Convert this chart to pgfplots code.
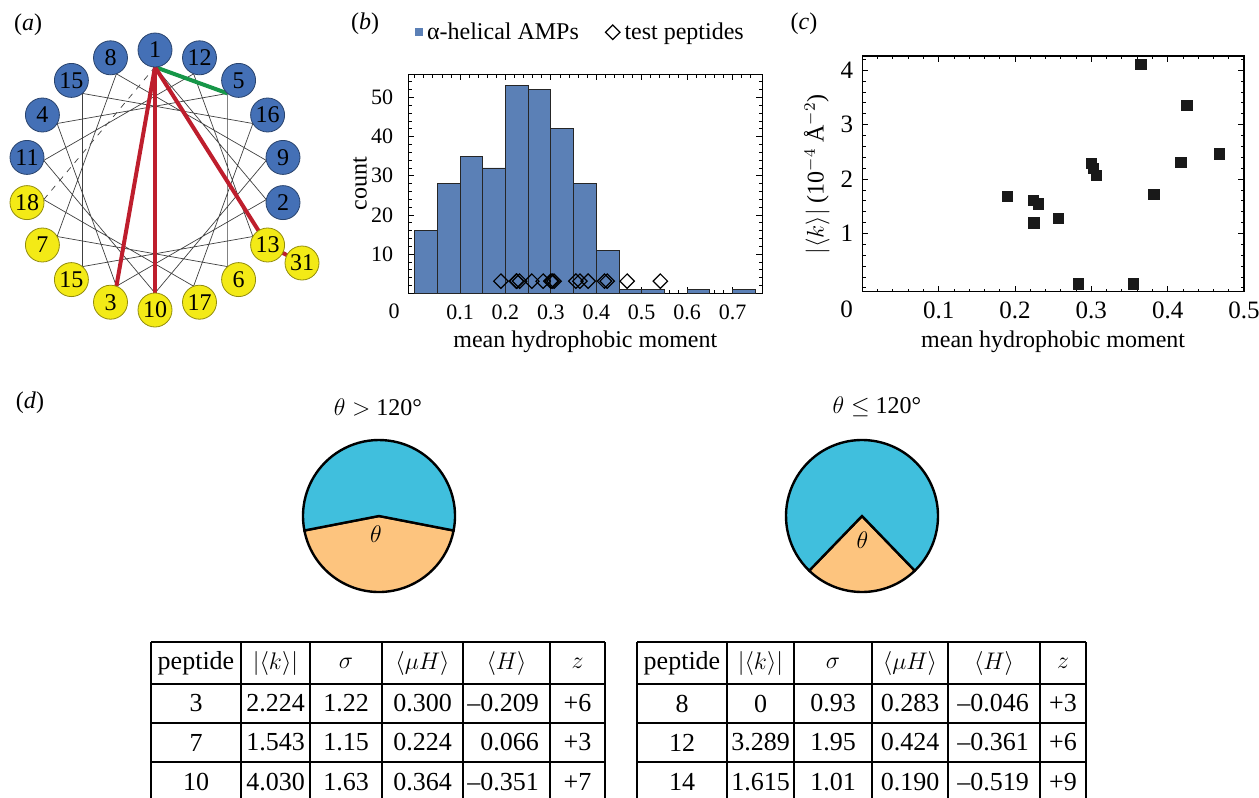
\documentclass[border=0pt]{standalone}
\usepackage{fontspec}
\setmainfont{Liberation Serif}
\usepackage{pgfplots}
\pgfplotsset{compat=1.18}
\definecolor{wblue}{RGB}{68,112,182}
\definecolor{wyellow}{RGB}{243,234,22}
\definecolor{wred}{RGB}{190,30,45}
\definecolor{wgreen}{RGB}{22,150,72}
\definecolor{hblue}{RGB}{91,128,182}
\definecolor{pcyan}{RGB}{64,191,221}
\definecolor{porange}{RGB}{253,196,126}
\newcommand{\fs}[1]{\fontsize{#1}{#1}\selectfont}
\pgfplotsset{
  frame/.style={
    scale only axis, tick align=inside,
    major tick length=3pt, minor tick length=1.6pt,
    every tick/.style={black, line width=0.4pt},
    axis line style={line width=0.6pt},
    /pgf/number format/assume math mode=true,
  }
}
\begin{document}
\begin{tikzpicture}[font=\fs{12}]
%% (a) helical wheel
\begin{axis}[at={(0pt,0pt)}, anchor=north west, x=0.5pt, y=0.5pt, y dir=reverse,
  xmin=0, xmax=330, ymin=0, ymax=330, axis lines=none, ticks=none, clip=false]
\addplot[black!75, line width=0.35pt] coordinates {(155,67) (266.3,199.6) (116.4,286.2) (57.1,123.5) (227.6,93.4) (227.6,266.6) (57.1,236.5) (116.4,73.8) (266.3,160.4) (155,293) (43.7,160.4) (193.6,73.8) (252.9,236.5) (82.4,266.6) (82.4,93.4) (252.9,123.5) (193.6,286.2) (43.7,199.6)};
\addplot[black!75, line width=0.35pt, dashed] coordinates {(43.7,199.6) (155,67)};
\addplot[wgreen, line width=2pt] coordinates {(155,67) (227.6,93.4)};
\addplot[wred, line width=2pt] coordinates {(155,67) (116.4,286.2)};
\addplot[wred, line width=2pt] coordinates {(155,67) (155,293)};
\addplot[wred, line width=2pt] coordinates {(155,67) (267.6,245) (302,263)};
\addplot[only marks, mark=*, mark size=8.5pt, mark options={fill=wblue, draw=wblue!60!black, line width=0.4pt},
  nodes near coords, point meta=explicit symbolic, nodes near coords align={anchor=center},
  every node near coord/.append style={font=\fs{12}, text=black}]
  coordinates {(155,50) [1] (283.0,202.6) [2] (42.4,115) [4] (238.6,80.4) [5] (110.5,57.8) [8] (283.0,157.4) [9] (27.0,157.4) [11] (199.5,57.8) [12] (71.4,80.4) [15] (267.6,115) [16]};
\addplot[only marks, mark=*, mark size=8.5pt, mark options={fill=wyellow, draw=wyellow!60!black, line width=0.4pt},
  nodes near coords, point meta=explicit symbolic, nodes near coords align={anchor=center},
  every node near coord/.append style={font=\fs{12}, text=black}]
  coordinates {(110.5,302.2) [3] (238.6,279.6) [6] (42.4,245) [7] (155,310) [10] (267.6,245) [13] (71.4,279.6) [15] (199.5,302.2) [17] (27.0,202.6) [18] (302,263) [31]};
\end{axis}
%% (b) histogram
\begin{axis}[frame, at={(204.15pt,-37.15pt)}, anchor=north west, width=177pt, height=109.5pt,
  xmin=-0.014, xmax=0.7656, ymin=0, ymax=55.9,
  xtick={0.1,0.2,0.3,0.4,0.5,0.6,0.7},
  minor xtick={0,0.02,0.04,0.06,0.08,0.12,0.14,0.16,0.18,0.22,0.24,0.26,0.28,0.32,0.34,0.36,0.38,0.42,0.44,0.46,0.48,0.52,0.54,0.56,0.58,0.62,0.64,0.66,0.68,0.72,0.74},
  ytick={10,20,30,40,50},
  minor ytick={2,4,6,8,12,14,16,18,22,24,26,28,32,34,36,38,42,44,46,48,52,54},
  tick label style={font=\fs{11}},
  xticklabel style={yshift=-2.5pt}, yticklabel style={xshift=-4pt},
  xlabel={mean hydrophobic moment}, ylabel={count},
  xlabel style={at={(axis description cs:0.5,-0.222)}, anchor=center, font=\fs{12}},
  ylabel style={at={(axis description cs:-0.1365,0.5)}, anchor=center, font=\fs{12}},
  legend columns=2,
  legend style={at={(0.019,1.192)}, anchor=west, draw=none, fill=none, inner sep=0pt,
    font=\fs{12}, /tikz/every even column/.append style={column sep=11pt}},
  legend cell align=left]
\addplot[ybar, bar width=0.05, bar shift=0pt, fill=hblue, draw=black!85, line width=0.4pt, forget plot]
  coordinates {(0.025,16) (0.075,28) (0.125,35) (0.175,32) (0.225,53) (0.275,52) (0.325,42) (0.375,28) (0.425,11) (0.475,1) (0.525,1) (0.625,1) (0.725,1)};
\addplot[only marks, mark=square, mark size=2.55pt, mark options={rotate=45, line width=0.6pt, black}, forget plot]
  coordinates {(0.190,3.1) (0.224,3.1) (0.225,3.1) (0.231,3.1) (0.258,3.1) (0.283,3.1) (0.300,3.1) (0.303,3.1) (0.307,3.1) (0.355,3.1) (0.364,3.1) (0.382,3.1) (0.418,3.1) (0.424,3.1) (0.468,3.1) (0.541,3.1)};
\addlegendimage{legend image code/.code={\fill[hblue] (0pt,-1.7pt) rectangle (3.4pt,1.7pt);}}
\addlegendentry{α-helical AMPs}
\addlegendimage{legend image code/.code={\draw[black, line width=0.6pt] (0pt,0pt) -- (3.6pt,3.6pt) -- (7.2pt,0pt) -- (3.6pt,-3.6pt) -- cycle;}}
\addlegendentry{test peptides}
\end{axis}
%% (c) scatter
\begin{axis}[frame, at={(431.15pt,-28pt)}, anchor=north west, width=190.85pt, height=117.85pt,
  xmin=0, xmax=0.5, ymin=-0.07, ymax=4.26,
  xtick={0.1,0.2,0.3,0.4,0.5},
  minor xtick={0,0.02,0.04,0.06,0.08,0.12,0.14,0.16,0.18,0.22,0.24,0.26,0.28,0.32,0.34,0.36,0.38,0.42,0.44,0.46,0.48},
  ytick={1,2,3,4},
  minor ytick={0,0.2,0.4,0.6,0.8,1.2,1.4,1.6,1.8,2.2,2.4,2.6,2.8,3.2,3.4,3.6,3.8,4.2},
  tick label style={font=\fs{12.5}},
  xticklabel style={yshift=-1.5pt}, yticklabel style={xshift=-1pt},
  xlabel={mean hydrophobic moment},
  ylabel={$|\langle k\rangle|$ (10$^{-4}$ Å$^{-2}$)},
  xlabel style={at={(axis description cs:0.5,-0.212)}, anchor=center, font=\fs{12}},
  ylabel style={at={(axis description cs:-0.1195,0.4985)}, anchor=center, font=\fs{12}}]
\addplot[only marks, mark=square*, mark size=2.6pt, mark options={fill=black!90, draw=black!90}]
  coordinates {(0.190,1.685) (0.224,1.61) (0.231,1.54) (0.225,1.195) (0.257,1.28) (0.283,0.07) (0.300,2.29) (0.3026,2.19) (0.307,2.07) (0.355,0.07) (0.365,4.11) (0.382,1.72) (0.4175,2.30) (0.425,3.35) (0.468,2.46)};
\end{axis}
\begin{scope}[x=0.5pt, y=-0.5pt]
%% origin labels and panel labels
\node[font=\fs{11}] at (394,311.7) {0};
\node[font=\fs{12.5}] at (846.7,309) {0};
\node at (28,25) {(\textit{a})};
\node at (365,24) {(\textit{b})};
\node at (804,24) {(\textit{c})};
\node at (30,403) {(\textit{d})};
%% (d) pies
\node at (378,407) {$\theta >$ 120°};
\node at (877,407) {$\theta \leq$ 120°};
\filldraw[fill=porange, line width=1.2pt, line join=miter] (379,516) -- ++(191:38pt) arc[start angle=191, end angle=349, radius=38pt] -- cycle;
\filldraw[fill=pcyan, line width=1.2pt, line join=miter] (379,516) -- ++(349:38pt) arc[start angle=349, end angle=551, radius=38pt] -- cycle;
\node at (376,534) {$\theta$};
\filldraw[fill=porange, line width=1.2pt, line join=miter] (862,516) -- ++(226:38pt) arc[start angle=226, end angle=314, radius=38pt] -- cycle;
\filldraw[fill=pcyan, line width=1.2pt, line join=miter] (862,516) -- ++(314:38pt) arc[start angle=314, end angle=586, radius=38pt] -- cycle;
\node at (862.5,540) {$\theta$};
%% tables
\begin{scope}[line width=1pt]
\foreach \x in {151,241,310,382,463,550,605} {\draw (\x,642) -- (\x,830);}
\foreach \y in {642,684,723,762} {\draw (151,\y) -- (605,\y);}
\foreach \x in {637,727,794,872,948,1040,1086} {\draw (\x,642) -- (\x,830);}
\foreach \y in {642,684,723,762} {\draw (637,\y) -- (1086,\y);}
\end{scope}
\begin{scope}[font=\fs{13}]
% left table
\node at (196,663) {peptide}; \node at (275.5,663) {$|\langle k\rangle|$}; \node at (346,663) {$\sigma$};
\node at (422.5,663) {$\langle\mu H\rangle$}; \node at (506.5,663) {$\langle H\rangle$}; \node at (577.5,663) {$z$};
\node at (196,703.5) {3}; \node at (275.5,703.5) {2.224}; \node at (346,703.5) {1.22}; \node at (422.5,703.5) {0.300}; \node[anchor=east] at (546,703.5) {–0.209}; \node at (577.5,703.5) {+6};
\node at (196,742.5) {7}; \node at (275.5,742.5) {1.543}; \node at (346,742.5) {1.15}; \node at (422.5,742.5) {0.224}; \node[anchor=east] at (546,742.5) {0.066}; \node at (577.5,742.5) {+3};
\node at (196,782) {10}; \node at (275.5,782) {4.030}; \node at (346,782) {1.63}; \node at (422.5,782) {0.364}; \node[anchor=east] at (546,782) {–0.351}; \node at (577.5,782) {+7};
% right table
\node at (682,663) {peptide}; \node at (760.5,663) {$|\langle k\rangle|$}; \node at (833,663) {$\sigma$};
\node at (910,663) {$\langle\mu H\rangle$}; \node at (994,663) {$\langle H\rangle$}; \node at (1063,663) {$z$};
\node at (682,703.5) {8}; \node at (760.5,703.5) {0}; \node at (833,703.5) {0.93}; \node at (910,703.5) {0.283}; \node[anchor=east] at (1036,703.5) {–0.046}; \node at (1063,703.5) {+3};
\node at (682,742.5) {12}; \node at (760.5,742.5) {3.289}; \node at (833,742.5) {1.95}; \node at (910,742.5) {0.424}; \node[anchor=east] at (1036,742.5) {–0.361}; \node at (1063,742.5) {+6};
\node at (682,782) {14}; \node at (760.5,782) {1.615}; \node at (833,782) {1.01}; \node at (910,782) {0.190}; \node[anchor=east] at (1036,782) {–0.519}; \node at (1063,782) {+9};
\end{scope}
\pgfresetboundingbox
\path[use as bounding box] (0,0) rectangle (1259,798);
\end{scope}
\end{tikzpicture}
\end{document}
